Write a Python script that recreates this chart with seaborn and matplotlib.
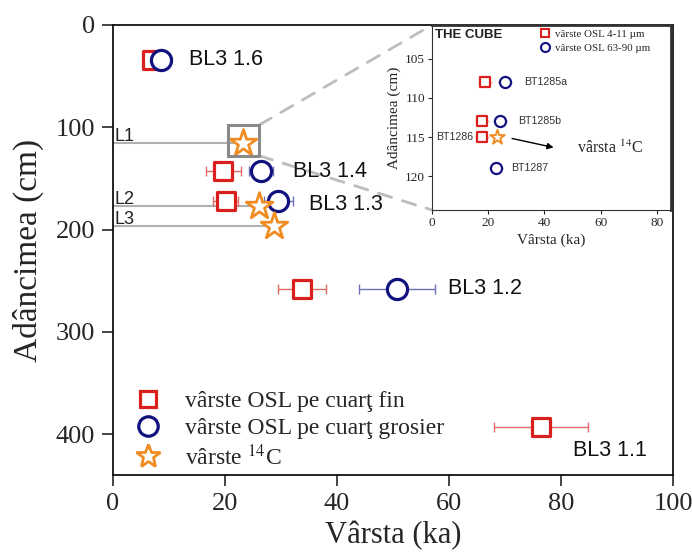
import numpy as np
import pandas as pd
import matplotlib
matplotlib.use("Agg")
import matplotlib.pyplot as plt
from matplotlib.lines import Line2D
from matplotlib.patches import Rectangle, ConnectionPatch
import seaborn as sns

# ---------------- data ----------------
samples = ["BL3 1.6", "BL3 1.4", "BL3 1.3", "BL3 1.2", "BL3 1.1"]
depth = [34, 143, 172, 258, 393]
fine_age = [6.9, 19.7, 20.1, 33.7, 76.4]
fine_err = [0.0, 3.1, 2.2, 4.3, 8.4]
coarse_age = [8.6, 26.4, 29.5, 50.7, np.nan]
coarse_err = [0.0, 2.2, 2.6, 6.8, np.nan]
label_x = [13.6, 32.1, 35.0, 59.8, 82.1]
label_depth = [34, 143, 176, 258, 416]

c14_labels = ["L1", "L2", "L3"]
c14_age = [23.2, 26.1, 28.75]
c14_depth = [115, 177, 197]

inset_samples = ["BT1285a", "BT1285b", "BT1286", "BT1287"]
inset_depth = [108, 113, 115, 119]
inset_fine = [19.0, 17.8, 17.8, np.nan]
inset_coarse = [26.0, 24.3, np.nan, 22.9]
inset_err = [2.5, 2.5, 2.5, 2.5]
inset_c14_age = [23.2]
inset_c14_depth = [115]

xticks = [0, 20, 40, 60, 80, 100]
yticks = [0, 100, 200, 300, 400]
inset_xticks = [0, 20, 40, 60, 80]
inset_yticks = [105, 110, 115, 120]

RED = "#d9201e"
BLUE = "#12127e"
ORANGE = "#ef8c22"
RED_ERR = "#e06a6a"
BLUE_ERR = "#7070b8"

sns.set_style("ticks")
plt.rcParams["font.family"] = ["Liberation Serif", "DejaVu Serif"]
plt.rcParams["mathtext.fontset"] = "stix"
SANS = ["Liberation Sans", "DejaVu Sans"]

main = pd.DataFrame(dict(sample=samples, depth=depth, fine=fine_age, fine_err=fine_err,
                         coarse=coarse_age, coarse_err=coarse_err))
c14 = pd.DataFrame(dict(label=c14_labels, age=c14_age, depth=c14_depth))
ins = pd.DataFrame(dict(sample=inset_samples, depth=inset_depth, fine=inset_fine,
                        coarse=inset_coarse, err=inset_err))

fig = plt.figure(figsize=(6.92, 5.54), dpi=100)
ax = fig.add_axes([0.1633, 0.1426, 0.8092, 0.8123])

# horizontal level lines
for _, r in c14.iterrows():
    ax.plot([0, r.age], [r.depth, r.depth], color="#b0b0b0", lw=1.5, zorder=1)
    ax.text(0.2, r.depth - 2.0, r.label, family=SANS, fontsize=13, ha="left",
            va="baseline", color="#222222")

# error bars
ax.errorbar(main.fine, main.depth, xerr=main.fine_err, fmt="none", ecolor=RED_ERR,
            elinewidth=1, capsize=3.6, capthick=1, zorder=2)
ax.errorbar(main.coarse, main.depth, xerr=main.coarse_err, fmt="none", ecolor=BLUE_ERR,
            elinewidth=1, capsize=3.6, capthick=1, zorder=2)

sns.scatterplot(data=main, x="fine", y="depth", marker="s", s=13**2, color="white",
                edgecolor=RED, linewidth=2.3, ax=ax, zorder=3, legend=False)
sns.scatterplot(data=main, x="coarse", y="depth", marker="o", s=14.5**2, color="white",
                edgecolor=BLUE, linewidth=2.3, ax=ax, zorder=4, legend=False)
sns.scatterplot(data=c14, x="age", y="depth", marker="*", s=20**2, color="white",
                edgecolor=ORANGE, linewidth=2.0, ax=ax, zorder=5, legend=False)

for s, lx, ly in zip(samples, label_x, label_depth):
    ax.text(lx, ly, s, family=SANS, fontsize=15.5, ha="left", va="center", color="#111111")

# zoom box
box = Rectangle((20.5, 97.8), 5.6, 30.0, fill=False, edgecolor="#8a8a8a", lw=2.2, zorder=6)
ax.add_patch(box)

ax.set_xlim(0, 100)
ax.set_ylim(440, 0)
ax.set_xticks(xticks)
ax.set_yticks(yticks)
ax.tick_params(direction="out", length=8, width=1.2, labelsize=19, pad=5,
               top=False, right=False)
ax.set_xlabel("Vârsta (ka)", fontsize=22, labelpad=4)
ax.set_ylabel("Adâncimea (cm)", fontsize=24, labelpad=8)
for sp in ax.spines.values():
    sp.set_linewidth(1.3)
    sp.set_color("#111111")

handles = [
    Line2D([], [], marker="s", ls="none", ms=12, mfc="white", mec=RED, mew=2.3),
    Line2D([], [], marker="o", ls="none", ms=14, mfc="white", mec=BLUE, mew=2.3),
    Line2D([], [], marker="*", ls="none", ms=18, mfc="white", mec=ORANGE, mew=2.0),
]
ax.legend(handles, ["vârste OSL pe cuarţ fin", "vârste OSL pe cuarţ grosier",
                    "vârste $^{14}$C"],
          loc="lower left", bbox_to_anchor=(0.0, -0.025), frameon=False, fontsize=17,
          handletextpad=0.75, labelspacing=0.22, borderaxespad=0.3, handlelength=1.6)

# ---------------- inset ----------------
axin = fig.add_axes([0.6243, 0.6209, 0.3454, 0.334])
axin.set_facecolor("white")
axin.errorbar(ins.fine, ins.depth, xerr=ins.err, fmt="none", ecolor="#f0b0b0",
              elinewidth=1, capsize=0, zorder=2)
axin.errorbar(ins.coarse, ins.depth, xerr=ins.err, fmt="none", ecolor="#b8b8dc",
              elinewidth=1, capsize=0, zorder=2)
sns.scatterplot(data=ins, x="fine", y="depth", marker="s", s=7**2, color="white",
                edgecolor=RED, linewidth=1.6, ax=axin, zorder=3, legend=False)
sns.scatterplot(data=ins, x="coarse", y="depth", marker="o", s=8**2, color="white",
                edgecolor=BLUE, linewidth=1.6, ax=axin, zorder=4, legend=False)
sns.scatterplot(x=inset_c14_age, y=inset_c14_depth, marker="*", s=11**2, color="white",
                edgecolor=ORANGE, linewidth=1.4, ax=axin, zorder=5, legend=False)

inset_lbl = {"BT1285a": (32.9, "left"), "BT1285b": (30.7, "left"),
             "BT1286": (14.5, "right"), "BT1287": (28.3, "left")}
for s, d in zip(inset_samples, inset_depth):
    x, ha = inset_lbl[s]
    axin.text(x, d, s, family=SANS, fontsize=7.7, ha=ha, va="center", color="#333333")

axin.annotate("", xy=(44.2, 116.4), xytext=(27.5, 115.1),
              arrowprops=dict(arrowstyle="-|>", color="black", lw=1, mutation_scale=9))
axin.text(51.6, 116.4, "vârsta $^{14}$C", fontsize=11.5, ha="left", va="center")
axin.text(0.013, 0.946, "THE CUBE", transform=axin.transAxes, family=SANS,
          fontweight="bold", fontsize=9.5, ha="left", va="center", color="#222222")

ih = [Line2D([], [], marker="s", ls="none", ms=6, mfc="white", mec=RED, mew=1.5),
      Line2D([], [], marker="o", ls="none", ms=6.5, mfc="white", mec=BLUE, mew=1.5)]
axin.legend(ih, ["vârste OSL 4-11 µm", "vârste OSL 63-90 µm"], loc="upper left",
            bbox_to_anchor=(0.42, 1.01), frameon=False, fontsize=7.8,
            handletextpad=0.3, labelspacing=0.35, handlelength=1.2, borderaxespad=0.2)

axin.set_xlim(0, 85)
axin.set_ylim(124.3, 100.7)
axin.set_xticks(inset_xticks)
axin.set_yticks(inset_yticks)
axin.tick_params(direction="out", length=3, width=0.8, labelsize=9.5, pad=2,
                 top=False, right=False)
axin.set_xlabel("Vârsta (ka)", fontsize=11, labelpad=3)
axin.set_ylabel("Adâncimea (cm)", fontsize=11, labelpad=3)
for name, sp in axin.spines.items():
    sp.set_color("#333333")
    sp.set_linewidth(2.0 if name in ("top", "right") else 0.8)

# dashed connectors from zoom box to inset
for yb, yi in [(97.8, 1.0), (127.8, 0.0)]:
    con = ConnectionPatch(xyA=(26.1, yb), coordsA=ax.transData, xyB=(0.0, yi),
                          coordsB=axin.transAxes, color="#bdbdbd", lw=2,
                          linestyle=(0, (5, 4)), zorder=0.5)
    ax.add_artist(con)

fig.savefig("out.png", dpi=100)
